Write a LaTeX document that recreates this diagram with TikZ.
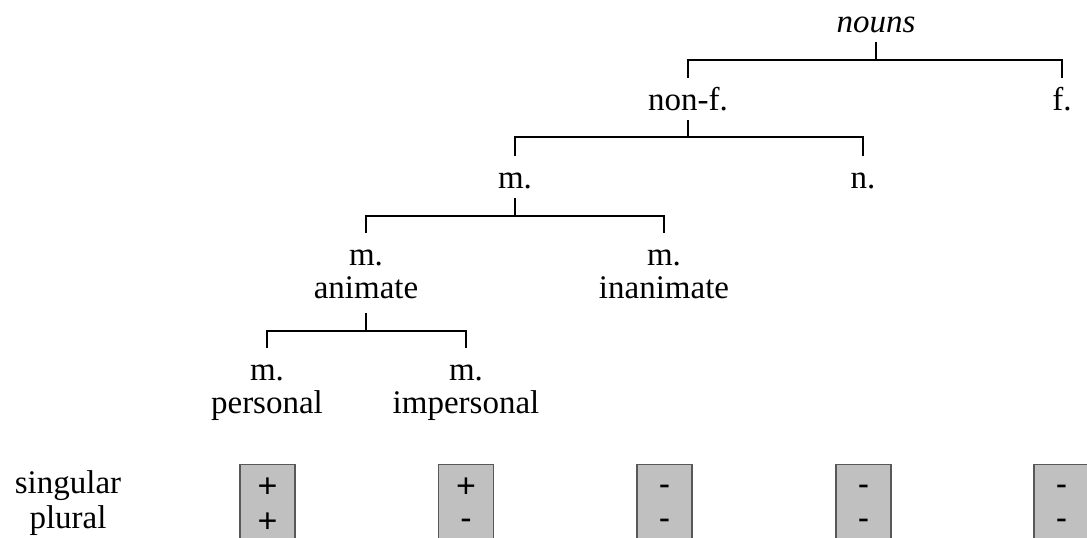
\documentclass[tikz,border=0pt]{standalone}
\usepackage{fontspec}
\setmainfont{Liberation Serif}
\newfontfamily\signfont{Liberation Sans}
\definecolor{boxgray}{HTML}{C0C0C0}
\definecolor{boxedge}{HTML}{585858}
\newcommand{\mns}{\vphantom{+}\raisebox{2.7pt}{-}}
\begin{document}
\begin{tikzpicture}[x=1pt,y=-1pt,
  lbl/.style={font=\fontsize{33}{33}\selectfont, inner sep=0pt, anchor=base, align=center},
  conn/.style={line width=1.2pt, black},
  valbox/.style={draw=boxedge, fill=boxgray, line width=1.3pt, minimum width=55pt, minimum height=100pt, anchor=north, inner sep=0pt},
  sign/.style={font=\signfont\fontsize{34}{34}\selectfont, inner sep=0pt, anchor=center}]
\useasboundingbox (0,0) rectangle (1087,538);
\clip (0,0) rectangle (1087,538);

% tree labels (anchor = baseline of the last line)
\node[lbl] (nouns) at (876,32) {\itshape nouns};
\node[lbl] (nonf) at (688,110) {non-f.};
\node[lbl] (f) at (1062,110) {f.};
\node[lbl] (m) at (515,188) {m.};
\node[lbl] (n) at (863,188) {n.};
\node[lbl] (anim) at (366,298) {m.\\animate};
\node[lbl] (inan) at (664,298) {m.\\inanimate};
\node[lbl] (pers) at (267,413) {m.\\personal};
\node[lbl] (imp) at (466,413) {m.\\impersonal};
\node[lbl, font=\fontsize{33}{35}\selectfont] (sp) at (68,528) {singular\\plural};

% tree connectors
\draw[conn] ([yshift=-10pt]nouns.base) -- ++(0,18) coordinate (b1) -| ([yshift=32pt]nonf.base);
\draw[conn] (b1) -| ([yshift=32pt]f.base);
\draw[conn] ([yshift=-10pt]nonf.base) -- ++(0,17) coordinate (b2) -| ([yshift=32pt]m.base);
\draw[conn] (b2) -| ([yshift=32pt]n.base);
\draw[conn] ([yshift=-10pt]m.base) -- ++(0,18) coordinate (b3) -| ([yshift=65pt]anim.base);
\draw[conn] (b3) -| ([yshift=65pt]inan.base);
\draw[conn] ([yshift=-15pt]anim.base) -- ++(0,18) coordinate (b4) -| ([yshift=65pt]pers.base);
\draw[conn] (b4) -| ([yshift=65pt]imp.base);

% value boxes
\node[valbox] (v1) at (267.5,464) {};
\node[valbox] (v2) at (466,464) {};
\node[valbox] (v3) at (664.5,464) {};
\node[valbox] (v4) at (863.5,464) {};
\node[valbox] (v5) at (1061.5,464) {};

\node[sign] (v1s) at ([yshift=-24pt]v1.north) {+};
\node[sign] (v1p) at ([yshift=-58.5pt]v1.north) {+};
\node[sign] (v2s) at ([yshift=-24pt]v2.north) {+};
\node[sign] (v2p) at ([yshift=-58.5pt]v2.north) {\mns};
\node[sign] (v3s) at ([yshift=-24pt]v3.north) {\mns};
\node[sign] (v3p) at ([yshift=-58.5pt]v3.north) {\mns};
\node[sign] (v4s) at ([yshift=-24pt]v4.north) {\mns};
\node[sign] (v4p) at ([yshift=-58.5pt]v4.north) {\mns};
\node[sign] (v5s) at ([yshift=-24pt]v5.north) {\mns};
\node[sign] (v5p) at ([yshift=-58.5pt]v5.north) {\mns};
\end{tikzpicture}
\end{document}
